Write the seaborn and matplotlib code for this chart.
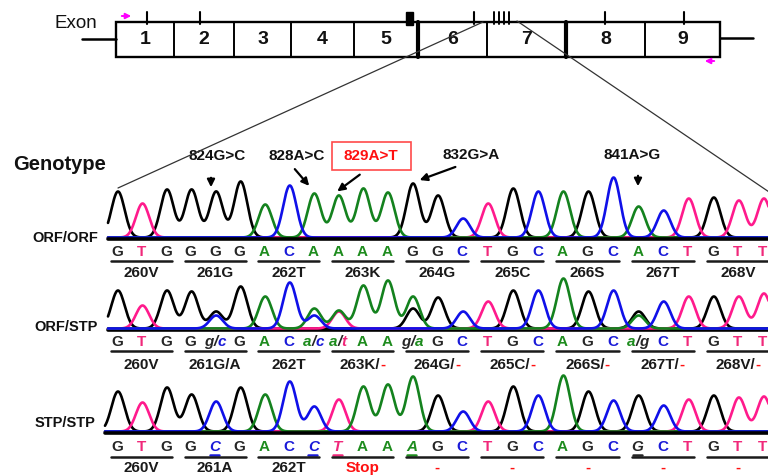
import numpy as np
import pandas as pd
import matplotlib
matplotlib.use("Agg")
import matplotlib.pyplot as plt
import seaborn as sns
from matplotlib.patches import Rectangle

# ---------------- data ----------------
exon_labels = ["1", "2", "3", "4", "5", "6", "7", "8", "9"]

orf_orf_bases = list("GTGGGGACAAAAGGCTGCAGCACTGTT")
orf_stp_bases = ["G", "T", "G", "G", "g/c", "G", "A", "C", "a/c", "a/t", "A", "A", "g/a",
                 "G", "C", "T", "G", "C", "A", "G", "C", "a/g", "C", "T", "G", "T", "T"]
stp_stp_bases = list("GTGGCGACCTAAAGCTGCAGCGCTGTT")
stp_mutated = [4, 8, 9, 12, 21]

codons_orf_orf = ["260V", "261G", "262T", "263K", "264G", "265C", "266S", "267T", "268V"]
codons_orf_stp = ["260V", "261G/A", "262T", "263K/-", "264G/-", "265C/-", "266S/-", "267T/-", "268V/-"]
codons_stp_stp = ["260V", "261A", "262T", "Stop", "-", "-", "-", "-", "-"]

mutations = ["824G>C", "828A>C", "829A>T", "832G>A", "841A>G"]
genotypes = ["ORF/ORF", "ORF/STP", "STP/STP"]

# peak heights (pixels) per base position, per dye channel
A_oo = [0, 0, 0, 0, 0, 0, 33, 0, 44, 42, 49, 45, 0, 0, 0, 0, 0, 0, 46, 0, 0, 31, 0, 0, 0, 0, 0]
C_oo = [0, 0, 0, 0, 0, 0, 0, 52, 0, 0, 0, 0, 0, 0, 19, 0, 0, 46, 0, 0, 60, 0, 27, 0, 0, 0, 0]
G_oo = [46, 0, 48, 48, 46, 56, 0, 0, 0, 0, 0, 0, 54, 42, 0, 0, 49, 0, 0, 46, 0, 0, 0, 0, 40, 0, 0]
T_oo = [0, 34, 0, 0, 0, 0, 0, 0, 0, 0, 0, 0, 0, 0, 0, 34, 0, 0, 0, 0, 0, 0, 0, 39, 0, 37, 39]

A_os = [0, 0, 0, 0, 0, 0, 32, 0, 20, 18, 43, 48, 32, 0, 0, 0, 0, 0, 50, 0, 0, 13, 0, 0, 0, 0, 0]
C_os = [0, 0, 0, 0, 13, 0, 0, 46, 13, 0, 0, 0, 0, 0, 17, 0, 0, 38, 0, 0, 38, 0, 27, 0, 0, 0, 0]
G_os = [38, 0, 38, 37, 17, 42, 0, 0, 0, 0, 0, 0, 20, 31, 0, 0, 38, 0, 0, 37, 0, 17, 0, 0, 32, 0, 0]
T_os = [0, 23, 0, 0, 0, 0, 0, 0, 0, 17, 0, 0, 0, 0, 0, 27, 0, 0, 0, 0, 0, 0, 0, 32, 0, 32, 35]

A_ss = [0, 0, 0, 0, 0, 0, 37, 0, 0, 0, 45, 47, 55, 0, 0, 0, 0, 0, 56, 0, 0, 0, 0, 0, 0, 0, 0]
C_ss = [0, 0, 0, 0, 30, 0, 0, 50, 25, 0, 0, 0, 0, 0, 20, 0, 0, 36, 0, 0, 31, 0, 26, 0, 0, 0, 0]
G_ss = [40, 0, 44, 37, 0, 44, 0, 0, 0, 0, 0, 0, 0, 36, 0, 0, 45, 0, 0, 40, 0, 36, 0, 0, 36, 0, 0]
T_ss = [0, 29, 0, 0, 0, 0, 0, 0, 0, 32, 0, 0, 0, 0, 0, 30, 0, 0, 0, 0, 0, 0, 0, 32, 0, 34, 35]

# ---------------- style ----------------
sns.set_theme(style="white")
plt.rcParams["font.family"] = ["Liberation Sans", "DejaVu Sans"]

LETTER_COL = {"A": "#1e8c1e", "C": "#1a1ad8", "G": "#262626", "T": "#f0287a"}
TRACE_COL = {"G": "#000000", "T": "#ff1a8c", "A": "#14821e", "C": "#1010e8"}
RED = "#ff1010"

fig = plt.figure(figsize=(7.68, 4.75), dpi=100)
ax = fig.add_axes([0, 0, 1, 1])
ax.set_xlim(0, 768)
ax.set_ylim(475, 0)
ax.axis("off")
renderer = fig.canvas.get_renderer()


def base_x(i):
    return float(np.interp(i, [0, 11, 26], [117, 387, 763]))


def parts_text(xc, y, parts, size, weight="bold"):
    arts, widths = [], []
    for s, c, style in parts:
        t = ax.text(0, y, s, color=c, fontsize=size, fontweight=weight,
                    fontstyle=style, ha="left", va="center")
        arts.append(t)
        widths.append(t.get_window_extent(renderer).width)
    x = xc - sum(widths) / 2
    for t, w in zip(arts, widths):
        t.set_x(x)
        x += w


# ---------------- exon diagram ----------------
box_l, box_r, box_t, box_b = 116, 720, 22, 57
bounds = [116, 174, 234, 291, 354, 418, 487, 566, 645, 720]
ax.add_patch(Rectangle((box_l, box_t), box_r - box_l, box_b - box_t,
                       fill=False, ec="black", lw=1.7, zorder=3))
for b in bounds[1:-1]:
    thick = b in (418, 566)
    ax.plot([b, b], [box_t, box_b], color="black", lw=3.0 if thick else 1.4, zorder=3)
for i, lab in enumerate(exon_labels):
    ax.text((bounds[i] + bounds[i + 1]) / 2, 40, lab, ha="center", va="center",
            fontsize=14, fontweight="bold", color="#111111", zorder=4)
ax.plot([82, box_l], [39, 39], color="black", lw=1.8)
ax.plot([box_r, 753], [38, 38], color="black", lw=1.8)
ax.text(76, 23, "Exon", ha="center", va="center", fontsize=13.5, color="#111111")
for tx in [147, 200, 474, 605, 684]:
    ax.plot([tx, tx], [12, 24], color="black", lw=1.5, zorder=3)
ax.add_patch(Rectangle((406, 12), 7, 13, color="black", zorder=3))
for tx in [494, 499, 504, 509]:
    ax.plot([tx, tx], [12, 24], color="black", lw=1.4, zorder=3)
ax.annotate("", xy=(134, 16), xytext=(119, 16),
            arrowprops=dict(arrowstyle="-|>", color="#ff00ff", lw=1.4, mutation_scale=8))
ax.annotate("", xy=(702, 61), xytext=(717, 61),
            arrowprops=dict(arrowstyle="-|>", color="#ff00ff", lw=1.4, mutation_scale=8))
# zoom lines
ax.plot([483, 118], [22, 188], color="#333333", lw=0.9, zorder=5)
ax.plot([517, 775], [21, 196], color="#333333", lw=0.9, zorder=5)

ax.text(60, 165, "Genotype", ha="center", va="center", fontsize=14.5,
        fontweight="bold", color="#111111")

# ---------------- mutation annotations ----------------
ann_pos = [(217, 156), (297, 156), (371, 156), (471, 155), (632, 155)]
ann_arrows = [((211, 175), (211, 190)), ((293, 167), (311, 188)),
              ((362, 173), (335, 193)), ((458, 166), (417, 181)),
              ((638, 173), (638, 189))]
for m, (tx, ty), (tail, head) in zip(mutations, ann_pos, ann_arrows):
    col = RED if m == "829A>T" else "#111111"
    ax.text(tx, ty, m, ha="center", va="center", fontsize=11, fontweight="bold", color=col)
    ax.annotate("", xy=head, xytext=tail,
                arrowprops=dict(arrowstyle="-|>", color="black", lw=1.6, mutation_scale=11))
ax.add_patch(Rectangle((332, 142), 79, 28, fill=False, ec="#ff4a4a", lw=1.2))

# ---------------- chromatogram rows ----------------
rows = [
    dict(name=genotypes[0], base=239, start=108, label_y=238, letter_y=252, ul_y=261, cod_y=273,
         peaks={"G": G_oo, "T": T_oo, "A": A_oo, "C": C_oo}, line_top=True),
    dict(name=genotypes[1], base=330, start=108, label_y=327, letter_y=342, ul_y=351, cod_y=365,
         peaks={"G": G_os, "T": T_os, "A": A_os, "C": C_os}, line_top=False),
    dict(name=genotypes[2], base=433, start=105, label_y=423, letter_y=447, ul_y=457, cod_y=468,
         peaks={"G": G_ss, "T": T_ss, "A": A_ss, "C": C_ss}, line_top=True),
]
sigma = 6.6
xs = np.arange(104, 772, 0.5)
centers = np.array([base_x(i) + 1 for i in range(27)])

for row in rows:
    ax.plot([row["start"], 768], [row["base"], row["base"]], color="black", lw=2.6,
            zorder=4 if row["line_top"] else 2)
    frames = []
    for ch, hts in row["peaks"].items():
        h = np.array(hts, dtype=float)
        sig = (h[None, :] * np.exp(-(xs[:, None] - centers[None, :]) ** 2 / (2 * sigma ** 2))).sum(axis=1)
        keep = xs >= row["start"]
        frames.append(pd.DataFrame({"x": xs[keep], "y": row["base"] - 1.5 - sig[keep], "ch": ch}))
    df = pd.concat(frames, ignore_index=True)
    sns.lineplot(data=df, x="x", y="y", hue="ch", palette=TRACE_COL, sort=False,
                 estimator=None, legend=False, linewidth=1.9, ax=ax, zorder=3)
    ax.text(row["start"] - 10, row["label_y"], row["name"], ha="right", va="center",
            fontsize=10.5, fontweight="bold", color="#111111")

ax.set_xlim(0, 768)
ax.set_ylim(475, 0)
ax.set_xlabel("")
ax.set_ylabel("")

LS = 11  # letter size
# ORF/ORF letters
r = rows[0]
for i, b in enumerate(orf_orf_bases):
    ax.text(base_x(i), r["letter_y"], b, ha="center", va="center", fontsize=LS,
            fontweight="bold", color=LETTER_COL[b])
# ORF/STP letters
r = rows[1]
for i, b in enumerate(orf_stp_bases):
    if "/" in b:
        p1, p2 = b.split("/")
        parts_text(base_x(i), r["letter_y"],
                   [(p1, LETTER_COL[p1.upper()], "italic"), ("/", "#262626", "italic"),
                    (p2, LETTER_COL[p2.upper()], "italic")], LS)
    else:
        ax.text(base_x(i), r["letter_y"], b, ha="center", va="center", fontsize=LS,
                fontweight="bold", color=LETTER_COL[b])
# STP/STP letters
r = rows[2]
for i, b in enumerate(stp_stp_bases):
    mut = i in stp_mutated
    ax.text(base_x(i), r["letter_y"], b, ha="center", va="center", fontsize=LS,
            fontweight="bold", fontstyle="italic" if mut else "normal", color=LETTER_COL[b])
    if mut:
        ax.plot([base_x(i) - 5, base_x(i) + 4], [r["letter_y"] + 7.5] * 2,
                color=LETTER_COL[b], lw=1.8)

# codon underlines + labels
CS = 11
for r, labels in zip(rows, [codons_orf_orf, codons_orf_stp, codons_stp_stp]):
    for k, lab in enumerate(labels):
        x0, x1, xm = base_x(3 * k) - 6, base_x(3 * k + 2) + 6, base_x(3 * k + 1)
        ax.plot([x0, x1], [r["ul_y"], r["ul_y"]], color="#1a1a1a", lw=1.8)
        if lab == "Stop" or lab == "-":
            ax.text(xm, r["cod_y"], lab, ha="center", va="center", fontsize=CS,
                    fontweight="bold", color=RED)
        elif lab.endswith("-"):
            parts_text(xm, r["cod_y"], [(lab[:-1], "#1a1a1a", "normal"), ("-", RED, "normal")], CS)
        else:
            ax.text(xm, r["cod_y"], lab, ha="center", va="center", fontsize=CS,
                    fontweight="bold", color="#1a1a1a")

fig.savefig("out.png", dpi=100)
